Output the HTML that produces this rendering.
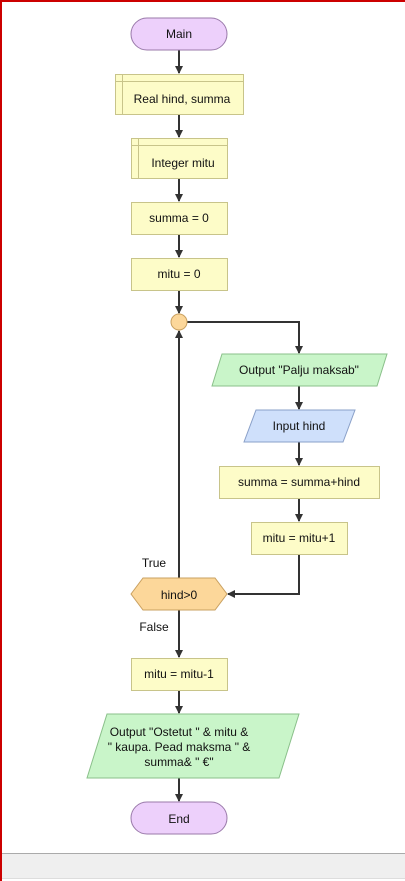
<!DOCTYPE html>
<html><head><style>
html,body{margin:0;padding:0;width:405px;height:881px;overflow:hidden;background:#fff}
svg{display:block}
text{font-family:"Liberation Sans",Arial,sans-serif;font-size:12px;fill:#111;text-anchor:middle}
</style></head><body>
<svg width="405" height="881" viewBox="0 0 405 881">
<defs>
<marker id="a" markerWidth="8" markerHeight="8" refX="7" refY="4" orient="auto" markerUnits="userSpaceOnUse">
<path d="M0,0 L8,4 L0,8 Z" fill="#333"/></marker>
</defs>
<rect x="0" y="0" width="405" height="881" fill="#fff"/>
<rect x="0" y="0" width="2" height="881" fill="#c00"/>
<rect x="0" y="0" width="405" height="2" fill="#c00"/>
<rect x="2" y="853" width="403" height="25" fill="#efefef"/>
<line x1="2" y1="853.5" x2="405" y2="853.5" stroke="#aaa"/>
<line x1="2" y1="878.5" x2="405" y2="878.5" stroke="#ddd"/>

<g stroke="#333" stroke-width="2" fill="none">
<line x1="179" y1="50" x2="179" y2="73" marker-end="url(#a)"/>
<line x1="179" y1="114" x2="179" y2="137" marker-end="url(#a)"/>
<line x1="179" y1="178" x2="179" y2="201" marker-end="url(#a)"/>
<line x1="179" y1="234" x2="179" y2="257" marker-end="url(#a)"/>
<line x1="179" y1="290" x2="179" y2="313" marker-end="url(#a)"/>
<polyline points="187,322 299,322 299,353" marker-end="url(#a)"/>
<line x1="299" y1="386" x2="299" y2="409" marker-end="url(#a)"/>
<line x1="299" y1="442" x2="299" y2="465" marker-end="url(#a)"/>
<line x1="299" y1="498" x2="299" y2="521" marker-end="url(#a)"/>
<polyline points="299,554 299,594 228,594" marker-end="url(#a)"/>
<line x1="179" y1="578" x2="179" y2="331" marker-end="url(#a)"/>
<line x1="179" y1="610" x2="179" y2="657" marker-end="url(#a)"/>
<line x1="179" y1="690" x2="179" y2="713" marker-end="url(#a)"/>
<line x1="179" y1="778" x2="179" y2="801" marker-end="url(#a)"/>
</g>

<rect x="131" y="18" width="96" height="32" rx="16" fill="#edd0fb" stroke="#9a7aaa"/>
<text x="179" y="38">Main</text>

<rect x="115.5" y="74.5" width="128" height="40" fill="#fdfcc8" stroke="#c8c48a"/>
<line x1="115.5" y1="81.5" x2="243.5" y2="81.5" stroke="#c8c48a"/>
<line x1="122.5" y1="74.5" x2="122.5" y2="114.5" stroke="#c8c48a"/>
<text x="182" y="103">Real hind, summa</text>

<rect x="131.5" y="138.5" width="96" height="40" fill="#fdfcc8" stroke="#c8c48a"/>
<line x1="131.5" y1="145.5" x2="227.5" y2="145.5" stroke="#c8c48a"/>
<line x1="138.5" y1="138.5" x2="138.5" y2="178.5" stroke="#c8c48a"/>
<text x="183" y="167">Integer mitu</text>

<rect x="131.5" y="202.5" width="96" height="32" fill="#fdfcc8" stroke="#c8c48a"/>
<text x="179" y="222">summa = 0</text>
<rect x="131.5" y="258.5" width="96" height="32" fill="#fdfcc8" stroke="#c8c48a"/>
<text x="179" y="278">mitu = 0</text>

<circle cx="179" cy="322" r="8" fill="#fcd79a" stroke="#c9a060"/>

<polygon points="222,354 387,354 377,386 212,386" fill="#c9f5c9" stroke="#8ac08a"/>
<text x="299" y="374">Output "Palju maksab"</text>
<polygon points="256,410 355,410 343,442 244,442" fill="#cfe0fb" stroke="#8aa0c8"/>
<text x="299" y="430">Input hind</text>
<rect x="219.5" y="466.5" width="160" height="32" fill="#fdfcc8" stroke="#c8c48a"/>
<text x="299" y="486">summa = summa+hind</text>
<rect x="251.5" y="522.5" width="96" height="32" fill="#fdfcc8" stroke="#c8c48a"/>
<text x="299" y="542">mitu = mitu+1</text>

<polygon points="131,594 143,578 215,578 227,594 215,610 143,610" fill="#fcd79a" stroke="#c9a060"/>
<text x="179" y="599">hind&gt;0</text>
<text x="154" y="567">True</text>
<text x="154" y="631">False</text>

<rect x="131.5" y="658.5" width="96" height="32" fill="#fdfcc8" stroke="#c8c48a"/>
<text x="179" y="678">mitu = mitu-1</text>

<polygon points="107,714 299,714 279,778 87,778" fill="#c9f5c9" stroke="#8ac08a"/>
<text x="179" y="736">Output "Ostetut " &amp; mitu &amp;</text>
<text x="179" y="751">" kaupa. Pead maksma " &amp;</text>
<text x="179" y="766">summa&amp; " €"</text>

<rect x="131" y="802" width="96" height="32" rx="16" fill="#edd0fb" stroke="#9a7aaa"/>
<text x="179" y="823">End</text>
</svg>
</body></html>
